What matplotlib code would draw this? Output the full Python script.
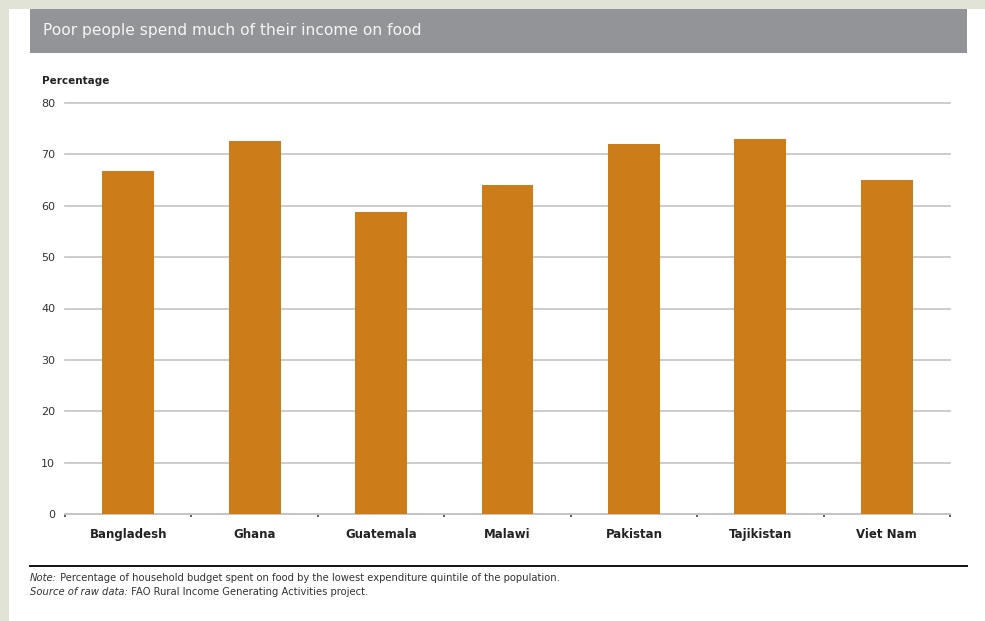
import matplotlib.pyplot as plt
import numpy as np
from matplotlib.patches import Rectangle
from matplotlib.lines import Line2D

# Share of household budget spent on food, lowest expenditure quintile
countries = ['Bangladesh', 'Ghana', 'Guatemala', 'Malawi', 'Pakistan', 'Tajikistan', 'Viet Nam']
food_share = [66.8, 72.6, 58.8, 64.0, 72.0, 73.0, 65.0]
y_ticks = [0, 10, 20, 30, 40, 50, 60, 70, 80]

title = 'Poor people spend much of their income on food'
note_lead = 'Note:'
note_text = ' Percentage of household budget spent on food by the lowest expenditure quintile of the population.'
source_lead = 'Source of raw data:'
source_text = ' FAO Rural Income Generating Activities project.'

BAR = '#cc7d19'
HEADER = '#939497'
GRID = '#c4c4c4'
narrow = ['Liberation Sans Narrow', 'DejaVu Sans']

W, H = 985, 621
fig = plt.figure(figsize=(W / 100, H / 100), dpi=100)
fig.patch.set_facecolor('#e2e3d7')


def fx(px):
    return px / W


def fy(py):
    return 1 - py / H


# white panel and grey header strip
fig.patches.append(Rectangle((fx(9), 0), fx(W - 9), fy(9), transform=fig.transFigure,
                             facecolor='white', edgecolor='none', zorder=-2))
fig.patches.append(Rectangle((fx(30), fy(53)), fx(967 - 30), fy(9) - fy(53),
                             transform=fig.transFigure, facecolor=HEADER,
                             edgecolor='none', zorder=-1))
fig.text(fx(43), fy(30), title, color='#f5f5f5', fontsize=11.2, va='center', ha='left')

ax = fig.add_axes([fx(65), fy(514), fx(950 - 65), fy(103) - fy(514)])
ax.set_zorder(2)
ax.set_facecolor('none')
x = np.arange(len(countries))
ax.bar(x, food_share, width=0.41, color=BAR, zorder=3)

ax.set_xlim(-0.5, len(countries) - 0.5)
ax.set_ylim(0, 80)
ax.set_yticks(y_ticks)
ax.set_yticklabels([str(v) for v in y_ticks], fontsize=8, color='#333333')
ax.tick_params(axis='y', length=0, pad=7)
ax.set_xticks(x)
ax.set_xticklabels(countries, fontsize=8.5, fontweight='bold', color='#222222')
ax.tick_params(axis='x', which='major', length=0, pad=10)
ax.set_xticks(np.arange(len(countries) + 1) - 0.5, minor=True)
ax.tick_params(axis='x', which='minor', length=2, width=1.2, color='#444444')
ax.grid(axis='y', color=GRID, linewidth=1.2, zorder=0)
for gl in ax.yaxis.get_gridlines():
    gl.set_clip_on(False)
for s in ['top', 'right', 'left']:
    ax.spines[s].set_visible(False)
ax.spines['bottom'].set_color(GRID)
ax.spines['bottom'].set_linewidth(1.2)

fig.text(fx(42), fy(81), 'Percentage', fontsize=7.5, fontweight='bold', color='#222222',
         va='center', ha='left')

# rule above the notes
fig.lines.append(Line2D([fx(30), fx(967)], [fy(566), fy(566)], transform=fig.transFigure,
                        color='#111111', linewidth=1.4))

t1 = fig.text(fx(30), fy(578), note_lead, fontsize=7.2, style='italic', family=narrow,
              color='#333333', va='center', ha='left')
ax.annotate(note_text, xy=(1, 0.5), xycoords=t1, fontsize=7.2, family=narrow,
            color='#333333', va='center', ha='left', annotation_clip=False)
t2 = fig.text(fx(30), fy(592), source_lead, fontsize=7.2, style='italic', family=narrow,
              color='#333333', va='center', ha='left')
ax.annotate(source_text, xy=(1, 0.5), xycoords=t2, fontsize=7.2, family=narrow,
            color='#333333', va='center', ha='left', annotation_clip=False)

fig.savefig('out.png', dpi=100, facecolor=fig.get_facecolor())
